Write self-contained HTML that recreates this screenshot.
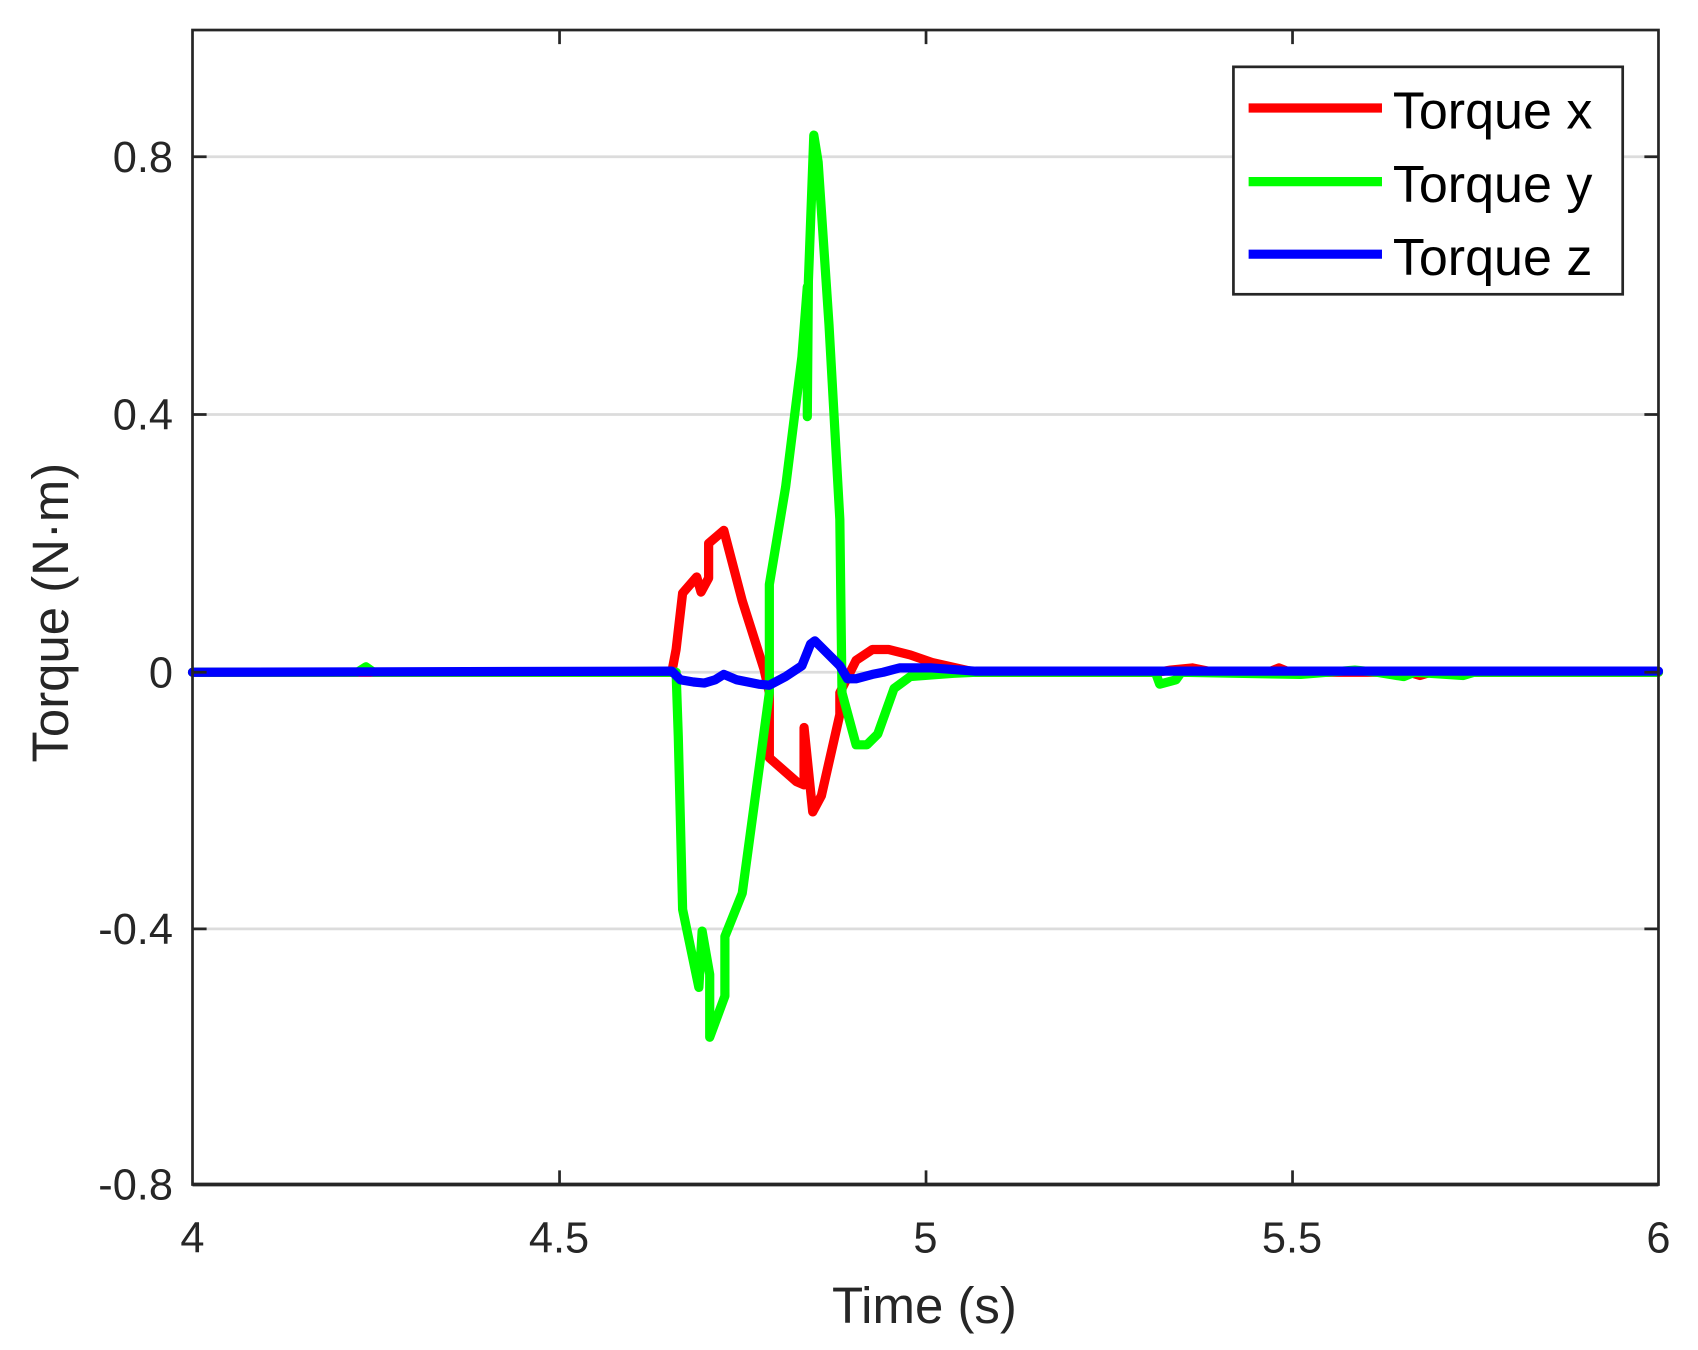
<!DOCTYPE html>
<html><head><meta charset="utf-8"><style>
html,body{margin:0;padding:0;background:#fff;}
svg{display:block;}
text{font-family:"Liberation Sans",Arial,sans-serif;fill:#262626;}
</style></head><body>
<svg width="1698" height="1350" viewBox="0 0 1698 1350" xmlns="http://www.w3.org/2000/svg">
<rect x="0" y="0" width="1698" height="1350" fill="#fff"/>
<g transform="matrix(1.0843,0,0,1.083,-0.5,-0.3)">
<g stroke="#dcdcdc" stroke-width="2.5">
<line x1="178" y1="145" x2="1530" y2="145"/>
<line x1="178" y1="383" x2="1530" y2="383"/>
<line x1="178" y1="621" x2="1530" y2="621"/>
<line x1="178" y1="858" x2="1530" y2="858"/>
</g>
<g fill="none" stroke-width="8.5" stroke-linejoin="round" stroke-linecap="round">
<polyline stroke="#ff0000" points="178,621 620,621 624,600 630,548 643,533 647,547 654,534 654,502 668,490 685,555 705,618 710,640 710,700 735,722 742,725 742,672 750,750 758,735 775,660 775,640 790,610 805,600 820,600 840,605 860,612 882,617 900,621 1068,621 1080,619 1100,617 1120,621 1170,621 1180,617 1190,621 1300,621 1310,624 1320,621 1530,621"/>
<polyline stroke="#00ff00" points="178,621 330,621 338,616 345,621 624,621 626,680 630,840 645,912 648,860 655,900 655,958 669,920 669,865 685,825 710,640 710,540 725,450 740,330 745,265 745,385 746,260 751,125 755,150 765,300 775,480 777,640 790,688 800,688 810,678 825,636 840,625 880,622 900,621 1066,621 1070,632 1085,628 1090,621 1200,623 1250,619 1270,621 1295,625 1305,621 1350,624 1360,621 1530,621"/>
<polyline stroke="#0000ff" points="178,621 620,620 628,628 640,630 650,631 660,628 668,623 680,628 700,632 710,633 725,625 740,615 748,595 752,592 760,600 775,615 782,627 790,627 805,623 815,621 830,617 860,617 900,620 1530,620"/>
</g>
<g stroke="#262626" stroke-width="2.5" fill="none">
<rect x="178" y="28" width="1352" height="1066"/>
<path d="M516.5,1094v-13M854.5,1094v-13M1192.5,1094v-13M516.5,28v13M854.5,28v13M1192.5,28v13M178,145h13M178,383h13M178,621h13M178,858h13M1530,145h-13M1530,383h-13M1530,621h-13M1530,858h-13"/>
</g>
<line x1="178" y1="1094" x2="1530" y2="1094" stroke="#262626" stroke-width="3.5"/>
<g font-size="40" text-anchor="end">
<text x="160" y="159">0.8</text>
<text x="160" y="397">0.4</text>
<text x="160" y="635">0</text>
<text x="160" y="872">-0.4</text>
<text x="160" y="1108">-0.8</text>
</g>
<g font-size="40" text-anchor="middle">
<text x="178" y="1157">4</text>
<text x="516" y="1157">4.5</text>
<text x="854" y="1157">5</text>
<text x="1192" y="1157">5.5</text>
<text x="1530" y="1157">6</text>
</g>
<text x="853" y="1222" font-size="47" text-anchor="middle">Time (s)</text>
<text transform="translate(63,566) rotate(-90)" font-size="47" text-anchor="middle">Torque (N·m)</text>
<rect x="1138" y="62" width="359" height="210" fill="#fff" stroke="#262626" stroke-width="2.5"/>
<g stroke-width="8.5">
<line x1="1152" y1="100" x2="1275" y2="100" stroke="#ff0000"/>
<line x1="1152" y1="168" x2="1275" y2="168" stroke="#00ff00"/>
<line x1="1152" y1="235" x2="1275" y2="235" stroke="#0000ff"/>
</g>
<g font-size="48">
<text x="1285" y="119" style="fill:#000">Torque x</text>
<text x="1285" y="187" style="fill:#000">Torque y</text>
<text x="1285" y="254" style="fill:#000">Torque z</text>
</g>
</g>
</svg>
</body></html>
